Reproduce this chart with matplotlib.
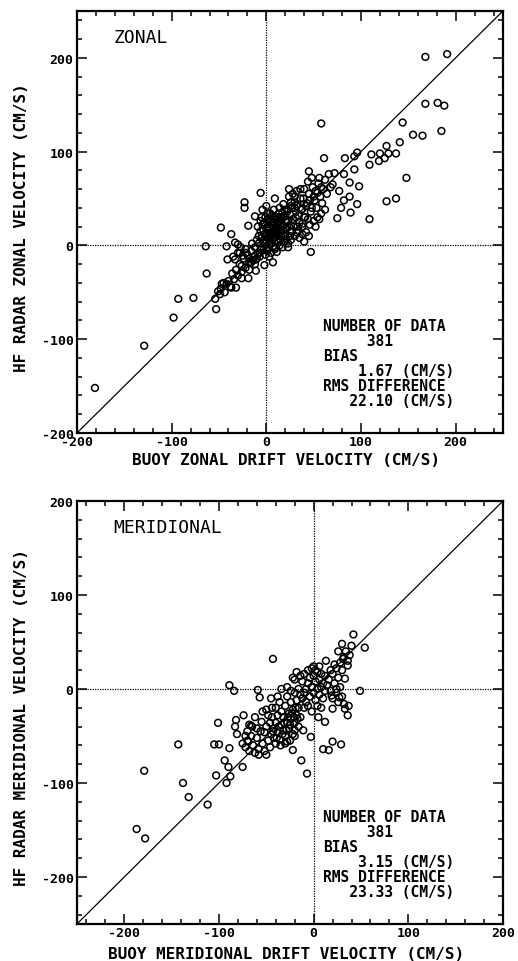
import matplotlib
matplotlib.use('Agg')
import matplotlib.pyplot as plt
import numpy as np
from matplotlib.ticker import MultipleLocator

plt.rcParams['font.family'] = ['DejaVu Sans Mono']
plt.rcParams['axes.unicode_minus'] = False

# zonal: (buoy drift, HF radar) in cm/s
zonal_pairs = [
    # outliers / sparse points
    (168, 201), (191, 204), (168, 151), (181, 152), (188, 149), (185, 122),
    (165, 117), (155, 118), (144, 131), (141, 110), (148, 72), (137, 50),
    (127, 47), (109, 28), (109, 86), (111, 97), (120, 98), (119, 90),
    (125, 93), (127, 106), (129, 98), (137, 98), (58, 130), (96, 99),
    (93, 95), (83, 93), (93, 81), (98, 63), (96, 44), (89, 35), (75, 29),
    (61, 93), (45, 79), (47, -7), (88, 52), (82, 48), (79, 40), (72, 77),
    (82, 76), (88, 67), (77, 58),
    (-181, -152), (-129, -107), (-98, -77), (-93, -57), (-77, -56),
    (-53, -68), (-54, -57), (-63, -30), (-64, -1), (-48, 19), (-42, -1),
    (-37, 12), (-23, 46), (-23, 40), (-6, 56), (9, 50), (23, -2), (7, -18),
    (-2, -21), (-19, -35), (-26, -35), (-32, -45), (-37, -45), (-42, -41),
    (-47, -41), (-51, -49), (-49, -52), (-33, -15), (-41, -15), (-26, -22),
    (-18, -18), (-11, -27), (-12, -11), (-19, 21), (-12, 31), (-7, -8),
    (-30, -8), (-27, -2), (-33, 3), (-30, 1), (-25, -11), (-21, -8),
    (-16, -18), (-11, -15),
    # lower-left band
    (-48, -46), (-45, -40), (-44, -50), (-40, -38), (-38, -44), (-36, -30),
    (-34, -36), (-32, -26), (-30, -32), (-28, -20), (-26, -28), (-24, -14),
    (-22, -24), (-20, -10), (-18, -26), (-16, -6), (-14, -16), (-12, -20),
    (-22, -4), (-28, -8), (-35, -12), (-18, -14), (-15, 2), (-10, -14),
    # core near the origin
    (-8, 2), (-6, 15), (-5, 8), (-4, 22), (-3, -5), (-2, 12), (-1, 30),
    (0, 5), (0, 18), (1, -6), (1, 20), (2, -3), (2, 28), (3, 10), (3, -12),
    (4, 18), (4, 34), (5, 2), (5, -8), (6, 25), (6, 14), (7, 8), (7, -1),
    (8, 14), (8, 38), (9, -4), (9, 9), (10, 20), (10, 28), (11, 5), (11, -7),
    (12, 30), (12, 19), (13, 12), (13, 3), (14, 0), (14, 40), (15, 22),
    (15, 6), (16, 9), (16, 30), (17, 35), (17, -2), (18, 16), (18, 44),
    (19, 4), (19, 10), (20, 27), (20, 12),
    (-12, -2), (-10, 6), (-9, -8), (-7, -12), (-5, -2), (-3, 3), (-1, -10),
    (-6, -4), (-2, 24), (0, 12), (2, 16), (4, 6), (6, 32), (8, 24), (10, -2),
    (12, 10), (14, 26), (-4, 38), (0, 42), (3, 26), (7, 18), (9, 30),
    (11, 14), (13, 22), (15, 14), (5, 12), (1, 8), (-1, 2), (-3, 16),
    (-8, 10), (-6, 26), (-2, 6), (1, 34), (3, 2), (5, 22), (7, 30), (9, 16),
    (11, 24), (13, 34), (15, 30), (17, 20), (19, 38), (-9, 20), (-5, 30),
    # band 20..70
    (21, 7), (21, 18), (22, 36), (23, 2), (23, 26), (24, 20), (24, 52),
    (25, 10), (25, 33), (26, 46), (26, 6), (27, 40), (27, 15), (28, 28),
    (28, 55), (29, 20), (30, 52), (30, 10), (30, 40), (31, 30), (32, 14),
    (32, 58), (33, 44), (34, 16), (34, 32), (35, 24), (36, 50), (37, 38),
    (38, 20), (38, 12), (39, 50), (40, 60), (41, 30), (42, 14), (43, 45),
    (44, 28), (44, 68), (45, 55), (46, 22), (47, 36), (48, 40), (48, 72),
    (49, 62), (50, 26), (51, 48), (52, 58), (52, 20), (53, 40), (54, 30),
    (55, 66), (56, 72), (56, 28), (57, 52), (58, 34), (59, 45), (60, 60),
    (62, 70), (62, 38), (64, 55), (66, 76), (68, 62), (70, 65),
    (20, 31), (22, 38), (26, 42), (32, 42), (38, 39), (40, 30), (38, 23),
    (33, 20), (26, 21), (22, 25),
    (35, 8), (40, 4), (45, 10), (42, 42), (46, 48), (50, 52), (54, 56),
    (58, 62), (36, 60), (30, 46), (24, 60),
]

# meridional: (buoy drift, HF radar) in cm/s
meridional_pairs = [
    # outliers / sparse points
    (-187, -149), (-178, -159), (-179, -87), (-138, -100), (-132, -115),
    (-112, -123), (-143, -59), (-103, -92), (-92, -100), (-88, -93),
    (-94, -76), (-90, -83), (-75, -83), (-105, -59), (-100, -59), (-89, -63),
    (-101, -36), (-89, 4), (-84, -2), (-43, 32), (-59, -1), (-57, -9),
    (-82, -33), (-74, -28), (-83, -40), (-81, -48), (-66, -39), (-69, -56),
    (-13, -76), (-7, -90), (-3, -51), (-20, -44), (-11, -44), (-28, -56),
    (-22, -65), (10, -64), (16, -65), (20, -56), (29, -59), (12, -35),
    (5, -30), (20, -21), (33, -21), (36, -28), (37, -18), (49, -2), (54, 44),
    (42, 58), (40, 46), (30, 48), (26, 40), (31, 32), (36, 25), (13, 30),
    (33, 11), (24, 0), (19, -7), (27, -9),
    # lower part of the band
    (-72, -62), (-70, -55), (-68, -66), (-66, -50), (-64, -60), (-62, -68),
    (-60, -52), (-58, -64), (-56, -45), (-54, -58), (-52, -66), (-50, -40),
    (-48, -55), (-46, -62), (-45, -48), (-60, -42), (-65, -40), (-70, -45),
    (-55, -35), (-62, -30), (-72, -50), (-58, -70), (-50, -70), (-75, -58),
    (-68, -38),
    # middle
    (-44, -30), (-42, -42), (-42, -52), (-40, -20), (-40, -36), (-38, -46),
    (-38, -28), (-36, -54), (-36, -14), (-34, -38), (-34, -24), (-32, -44),
    (-32, -30), (-30, -18), (-30, -50), (-28, -36), (-28, -8), (-26, -26),
    (-26, -42), (-24, -14), (-24, -32), (-22, -22), (-22, -48), (-20, -36),
    (-20, -4), (-18, -28), (-18, -12), (-16, -40), (-16, -20), (-14, -6),
    (-14, -30), (-44, -20), (-46, -36), (-48, -28), (-50, -22), (-52, -46),
    (-54, -24), (-40, -58), (-35, -60), (-30, -58), (-25, -55), (-20, -50),
    (-38, -8), (-34, 0), (-28, 2), (-22, 12), (-18, 18), (-45, -10),
    (-43, -45), (-39, -52), (-37, -40), (-33, -48), (-31, -36), (-29, -44),
    (-27, -30), (-25, -38), (-23, -26), (-21, -30), (-19, -20), (-17, -32),
    # upper part near the origin
    (-12, -10), (-12, 8), (-10, -20), (-10, 16), (-8, 0), (-8, -14), (-6, 20),
    (-6, 6), (-4, -8), (-4, 12), (-2, 2), (-2, 22), (0, -4), (0, 14), (2, 8),
    (2, -12), (4, 18), (4, 0), (6, 10), (6, -6), (8, 16), (8, 2), (10, 6),
    (10, -10), (12, 14), (14, 4), (-16, 0), (-14, 14), (-10, -4), (-6, -18),
    (-2, -24), (0, 24), (4, -18), (8, -20), (12, -2), (16, 10), (18, 20),
    (-20, 10), (-24, -2), (2, 20), (6, 24),
    # right cluster
    (18, -2), (20, -10), (22, 6), (24, -4), (26, -14), (28, 2), (30, -8),
    (32, -16), (20, 16), (24, 22), (28, 28), (32, 34), (36, 30), (34, 40),
    (38, 36), (30, 20), (22, 26), (26, 12),
]

zonal_stats = ['381', '1.67', '22.10']
meridional_stats = ['381', '3.15', '23.33']

panels = [
    dict(pairs=zonal_pairs, stats=zonal_stats, title='ZONAL',
         xlabel='BUOY ZONAL DRIFT VELOCITY (CM/S)',
         ylabel='HF RADAR ZONAL VELOCITY (CM/S)',
         xlim=(-200, 250), ylim=(-200, 250), xlab_y=-0.062,
         rect=[0.1486, 0.5489, 0.8224, 0.4387]),
    dict(pairs=meridional_pairs, stats=meridional_stats, title='MERIDIONAL',
         xlabel='BUOY MERIDIONAL DRIFT VELOCITY (CM/S)',
         ylabel='HF RADAR MERIDIONAL VELOCITY (CM/S)',
         xlim=(-250, 200), ylim=(-250, 200), xlab_y=-0.07,
         rect=[0.1486, 0.0385, 0.8224, 0.4397]),
]

fig = plt.figure(figsize=(5.18, 9.62), dpi=100)

for p in panels:
    ax = fig.add_axes(p['rect'])
    xy = np.array(p['pairs'], dtype=float)
    ax.scatter(xy[:, 0], xy[:, 1], s=24, facecolors='none',
               edgecolors='black', linewidths=1.1, zorder=3)
    ax.axhline(0, color='black', lw=0.9, ls=(0, (1, 1)), zorder=1)
    ax.axvline(0, color='black', lw=0.9, ls=(0, (1, 1)), zorder=1)
    ax.axline((0, 0), slope=1, color='black', lw=0.9, zorder=2)
    ax.set_xlim(*p['xlim'])
    ax.set_ylim(*p['ylim'])
    ticks = [-200, -100, 0, 100, 200]
    ax.set_xticks(ticks)
    ax.set_yticks(ticks)
    ax.xaxis.set_minor_locator(MultipleLocator(20))
    ax.yaxis.set_minor_locator(MultipleLocator(20))
    ax.tick_params(which='both', direction='in', top=True, right=True,
                   labelsize=9.5, width=1.1)
    ax.tick_params(which='major', length=7)
    ax.tick_params(which='minor', length=3.5)
    ax.tick_params(axis='x', pad=1.5)
    ax.tick_params(axis='y', pad=2.5)
    for lab in ax.get_xticklabels() + ax.get_yticklabels():
        lab.set_fontweight('bold')
    for sp in ax.spines.values():
        sp.set_linewidth(1.6)
    ax.text(0.49, p['xlab_y'], p['xlabel'], transform=ax.transAxes,
            fontsize=11.5, fontweight='bold', ha='center', va='center')
    ax.text(-0.13, 0.49, p['ylabel'], transform=ax.transAxes, rotation=90,
            fontsize=11.5, fontweight='bold', ha='center', va='center')
    ax.text(0.085, 0.938, p['title'], transform=ax.transAxes,
            fontsize=13, ha='left', va='center')
    n, bias, rms = p['stats']
    block = ('NUMBER OF DATA\n     %s\nBIAS\n    %s (CM/S)\n'
             'RMS DIFFERENCE\n   %s (CM/S)' % (n, bias, rms))
    ax.text(0.577, 0.272, block, transform=ax.transAxes, fontsize=10.5,
            fontweight='bold', ha='left', va='top', linespacing=1.0)

fig.savefig('out.png', dpi=100)
